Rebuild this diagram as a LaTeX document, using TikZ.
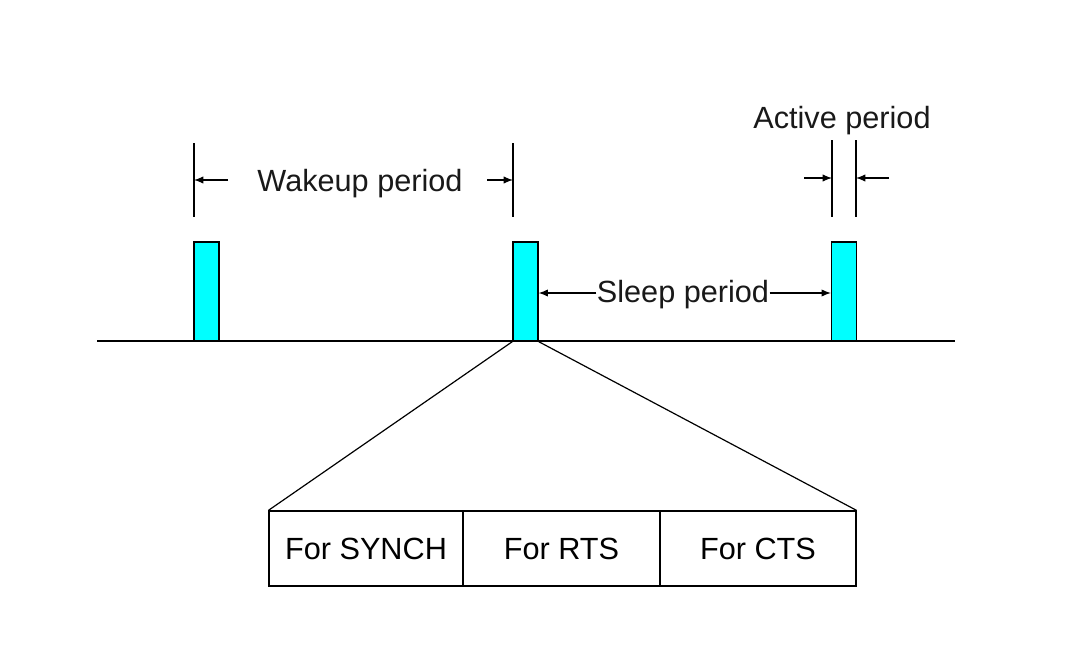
\documentclass[tikz,border=0pt]{standalone}
\usepackage{fontspec}
\setmainfont{Liberation Sans}
\usetikzlibrary{arrows.meta}
\definecolor{aqua}{RGB}{0,255,255}
\begin{document}
\begin{tikzpicture}[x=0.75pt,y=-0.75pt,
  line width=0.9pt,
  lbl/.style={font=\fontsize{23}{27}\selectfont, inner sep=0pt, text=black!90},
  bar/.style={draw, fill=aqua, inner sep=0pt, minimum width=18.75pt, minimum height=74.25pt},
  cell/.style={draw, inner sep=0pt, minimum height=56.25pt, font=\fontsize{23}{27}\selectfont},
  arr/.style={-{Latex[length=7pt,width=5.5pt]}}]
\useasboundingbox (0,0) rectangle (1078,653);
% baseline
\coordinate (L0) at (97,341);
\coordinate (L1) at (955,341);
\draw (L0) -- (L1);
% bars
\node[bar] (b1) at (206.5,291.5) {};
\node[bar] (b2) at (525.5,291.5) {};
\node[bar] (b3) at (844,291.5) {};
% wakeup period
\coordinate (w1t) at (194,143); \coordinate (w1b) at (194,217);
\coordinate (w2t) at (513,143); \coordinate (w2b) at (513,217);
\draw (w1t) -- (w1b);
\draw (w2t) -- (w2b);
\coordinate (w1a) at (228,180); \coordinate (w1h) at (194,180);
\coordinate (w2a) at (487,180); \coordinate (w2h) at (513,180);
\draw[arr] (w1a) -- (w1h);
\draw[arr] (w2a) -- (w2h);
\node[lbl] (wt) at (360,184) {Wakeup period};
% active period
\coordinate (a1t) at (832,140); \coordinate (a1b) at (832,217);
\coordinate (a2t) at (856,140); \coordinate (a2b) at (856,217);
\draw (a1t) -- (a1b);
\draw (a2t) -- (a2b);
\coordinate (a1a) at (804,178); \coordinate (a1h) at (832,178);
\coordinate (a2a) at (889,178); \coordinate (a2h) at (856,178);
\draw[arr] (a1a) -- (a1h);
\draw[arr] (a2a) -- (a2h);
\node[lbl] (at) at (842,121) {Active period};
% sleep period
\node[lbl] (st) at (683,295) {Sleep period};
\coordinate (sy) at (0,293);
\draw[arr] (st.west |- sy) -- (b2.east |- sy);
\draw[arr] (st.east |- sy) -- (b3.west |- sy);
% expansion
\node[cell, minimum width=145.5pt] (c1) at (366,548.5) {For SYNCH};
\node[cell, minimum width=147.75pt] (c2) at (561.5,548.5) {For RTS};
\node[cell, minimum width=147pt] (c3) at (758,548.5) {For CTS};
\draw (b2.south west) -- (c1.north west);
\draw (b2.south east) -- (c3.north east);
\end{tikzpicture}
\end{document}
